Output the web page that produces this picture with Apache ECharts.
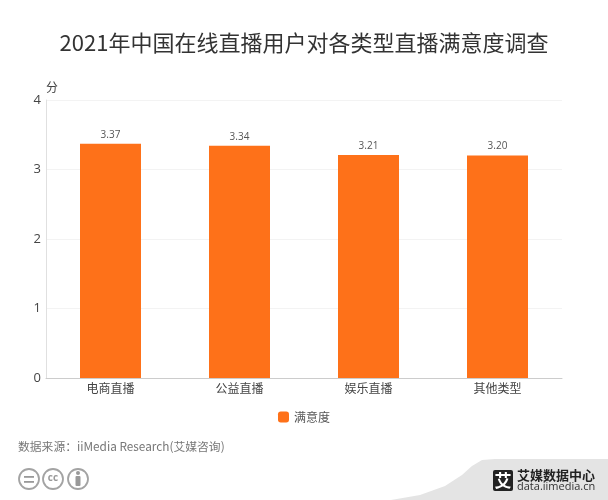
<!DOCTYPE html>
<html><head><meta charset="utf-8">
<style>html,body{margin:0;padding:0;background:#fff}#c{width:608px;height:500px}</style>
<script src="https://cdn.jsdelivr.net/npm/echarts@6/dist/echarts.min.js"></script>
</head><body><div id="c"></div>
<script>
const categories = ['电商直播','公益直播','娱乐直播','其他类型'];
const satisfaction = [3.37,3.34,3.21,3.20];
const yTicks = [0,1,2,3,4];
const seriesName = '满意度';
const font = '"Noto Sans CJK SC","Open Sans",sans-serif';
const chart = echarts.init(document.getElementById('c'));
const circ = (cx)=>({type:'circle',shape:{cx,cy:479,r:10},style:{fill:'#fff',stroke:'#a3a3a3',lineWidth:1.8}});
chart.setOption({
  animation:false,
  backgroundColor:'#fff',
  title:{text:'2021年中国在线直播用户对各类型直播满意度调查',left:'center',top:27,textStyle:{fontFamily:font,fontSize:22,fontWeight:'normal',color:'#333'}},
  grid:{left:46,right:46,top:100,bottom:122},
  legend:{data:[seriesName],bottom:72,left:'center',itemWidth:11,itemHeight:11,itemGap:3,icon:'roundRect',textStyle:{fontFamily:font,fontSize:12,color:'#555'}},
  xAxis:{type:'category',data:categories,axisTick:{show:false},axisLine:{lineStyle:{color:'#ccc'}},axisLabel:{fontFamily:font,fontSize:12,color:'#444',margin:4}},
  yAxis:{type:'value',min:0,max:4,interval:1,name:'分',nameGap:10,nameLocation:'end',
    nameTextStyle:{fontFamily:font,fontSize:12,color:'#444',align:'left',verticalAlign:'middle'},
    axisLine:{show:true,lineStyle:{color:'#e0e0e0'}},axisTick:{show:false},
    splitLine:{lineStyle:{color:'#f3f3f3'}},
    axisLabel:{fontFamily:'"Open Sans",sans-serif',fontSize:13,color:'#444',margin:5,
      formatter:v=>yTicks.includes(v)?String(v):''}},
  series:[{name:seriesName,type:'bar',data:satisfaction,barWidth:61,itemStyle:{color:'#fe7119'},
    label:{show:true,position:'top',distance:4,fontFamily:'"Open Sans",sans-serif',fontSize:10,color:'#555',formatter:p=>p.value.toFixed(2)}}],
  graphic:[
    {type:'text',x:18,y:447,style:{text:'数据来源：iiMedia Research(艾媒咨询)',font:'11.8px '+font,fill:'#777',verticalAlign:'middle'}},
    circ(29),circ(53),circ(78),
    {type:'rect',shape:{x:24,y:476,width:10,height:1.8},style:{fill:'#999'}},
    {type:'rect',shape:{x:24,y:481,width:10,height:1.8},style:{fill:'#999'}},
    {type:'text',x:53,y:478.5,style:{text:'cc',font:'bold 10px "Open Sans"',fill:'#999',align:'center',verticalAlign:'middle'}},
    {type:'circle',shape:{cx:78,cy:473,r:2},style:{fill:'#999'}},
    {type:'rect',shape:{x:75.5,y:476,width:5,height:10,r:1},style:{fill:'#999'}},
    {type:'polygon',shape:{points:[[391,500],[420,495],[445,486],[462,475],[472,466],[482,460],[495,459],[608,459],[608,500]]},style:{fill:'#e4e4e4'}},
    {type:'rect',shape:{x:493,y:470,width:20,height:21,r:2},style:{fill:'#222'}},
    {type:'text',x:503,y:480.5,style:{text:'艾',font:'bold 17px '+font,fill:'#fff',align:'center',verticalAlign:'middle'}},
    {type:'text',x:517,y:475,style:{text:'艾媒数据中心',font:'bold 13px '+font,fill:'#222',verticalAlign:'middle'}},
    {type:'text',x:517,y:487,style:{text:'data.iimedia.cn',font:'11px "Open Sans"',fill:'#333',verticalAlign:'middle'}}
  ]
});
</script></body></html>
